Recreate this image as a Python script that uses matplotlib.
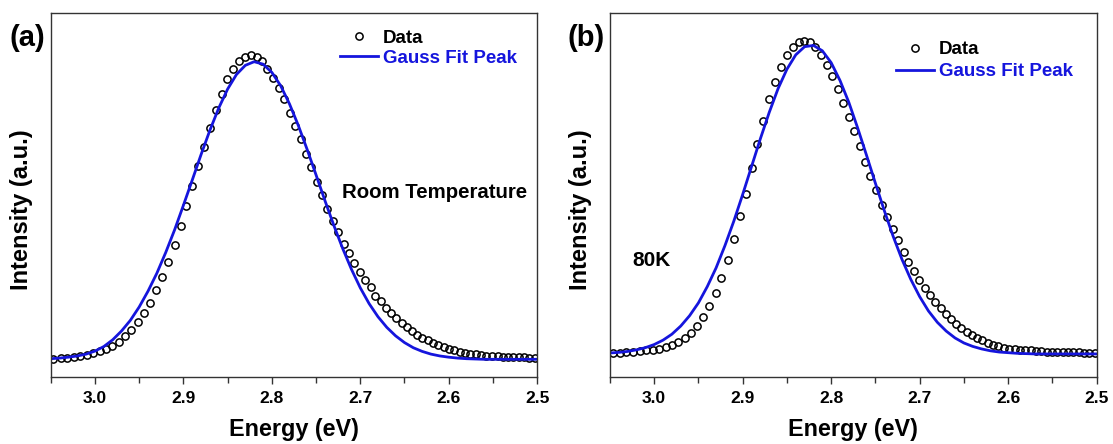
import matplotlib
matplotlib.use("Agg")
import matplotlib.pyplot as plt
from matplotlib.ticker import MultipleLocator

plt.rcParams["font.family"] = ["Liberation Sans", "DejaVu Sans"]
plt.rcParams["font.weight"] = "bold"

# (a) room temperature, measured points
energy_a = [3.0476, 3.0387, 3.0315, 3.0234, 3.0165, 3.0093, 3.0020, 2.9948, 2.9875, 2.9802,
            2.9730, 2.9661, 2.9588, 2.9516, 2.9447, 2.9374, 2.9310, 2.9237, 2.9169, 2.9096,
            2.9031, 2.8971, 2.8902, 2.8834, 2.8765, 2.8696, 2.8632, 2.8567, 2.8503, 2.8434,
            2.8369, 2.8305, 2.8236, 2.8172, 2.8107, 2.8055, 2.7986, 2.7921, 2.7861, 2.7800,
            2.7736, 2.7671, 2.7615, 2.7554, 2.7494, 2.7433, 2.7373, 2.7312, 2.7252, 2.7187,
            2.7126, 2.7066, 2.7005, 2.6949, 2.6884, 2.6828, 2.6767, 2.6711, 2.6654, 2.6594,
            2.6533, 2.6477, 2.6420, 2.6360, 2.6299, 2.6239, 2.6178, 2.6117, 2.6057, 2.5996,
            2.5936, 2.5875, 2.5815, 2.5754, 2.5694, 2.5633, 2.5573, 2.5508, 2.5447, 2.5391,
            2.5330, 2.5270, 2.5209, 2.5149, 2.5088, 2.5028]
intensity_a = [0.002, 0.004, 0.005, 0.009, 0.012, 0.015, 0.021, 0.027, 0.035, 0.045,
               0.058, 0.076, 0.095, 0.122, 0.152, 0.185, 0.227, 0.271, 0.320, 0.377,
               0.439, 0.504, 0.571, 0.635, 0.698, 0.761, 0.819, 0.871, 0.920, 0.954,
               0.981, 0.995, 1.000, 0.992, 0.979, 0.954, 0.925, 0.890, 0.854, 0.811,
               0.768, 0.725, 0.675, 0.633, 0.583, 0.539, 0.493, 0.455, 0.417, 0.380,
               0.348, 0.315, 0.286, 0.260, 0.236, 0.209, 0.190, 0.170, 0.152, 0.136,
               0.120, 0.106, 0.093, 0.081, 0.071, 0.063, 0.054, 0.046, 0.039, 0.034,
               0.030, 0.025, 0.022, 0.019, 0.016, 0.014, 0.012, 0.011, 0.010, 0.009,
               0.008, 0.008, 0.007, 0.007, 0.005, 0.005]

# (b) 80 K, measured points
energy_b = [3.0464, 3.0387, 3.0315, 3.0238, 3.0165, 3.0089, 3.0016, 2.9944, 2.9871, 2.9798,
            2.9730, 2.9657, 2.9584, 2.9516, 2.9447, 2.9379, 2.9306, 2.9241, 2.9169, 2.9100,
            2.9035, 2.8967, 2.8898, 2.8834, 2.8765, 2.8700, 2.8632, 2.8567, 2.8499, 2.8430,
            2.8369, 2.8305, 2.8240, 2.8180, 2.8115, 2.8047, 2.7986, 2.7926, 2.7861, 2.7800,
            2.7740, 2.7679, 2.7615, 2.7558, 2.7490, 2.7429, 2.7369, 2.7304, 2.7244, 2.7179,
            2.7127, 2.7066, 2.7006, 2.6945, 2.6885, 2.6828, 2.6763, 2.6707, 2.6650, 2.6590,
            2.6529, 2.6469, 2.6408, 2.6352, 2.6291, 2.6231, 2.6170, 2.6110, 2.6049, 2.5989,
            2.5928, 2.5868, 2.5807, 2.5747, 2.5686, 2.5626, 2.5565, 2.5504, 2.5444, 2.5383,
            2.5323, 2.5262, 2.5202, 2.5141, 2.5081, 2.5020]
intensity_b = [0.003, 0.004, 0.005, 0.007, 0.010, 0.012, 0.014, 0.017, 0.022, 0.030,
               0.039, 0.052, 0.068, 0.089, 0.118, 0.152, 0.193, 0.244, 0.299, 0.367,
               0.440, 0.512, 0.594, 0.670, 0.744, 0.813, 0.869, 0.915, 0.954, 0.981,
               0.996, 1.000, 0.995, 0.980, 0.953, 0.924, 0.887, 0.845, 0.800, 0.757,
               0.711, 0.663, 0.613, 0.569, 0.523, 0.477, 0.438, 0.399, 0.363, 0.325,
               0.293, 0.264, 0.237, 0.212, 0.187, 0.165, 0.147, 0.129, 0.113, 0.097,
               0.083, 0.071, 0.061, 0.052, 0.044, 0.036, 0.030, 0.024, 0.020, 0.017,
               0.015, 0.013, 0.012, 0.011, 0.010, 0.009, 0.007, 0.007, 0.006, 0.006,
               0.005, 0.005, 0.005, 0.004, 0.004, 0.004]

# Gauss fit curves, read every 0.01 eV
fit_energy = [3.05, 3.04, 3.03, 3.02, 3.01, 3.00, 2.99, 2.98, 2.97, 2.96,
              2.95, 2.94, 2.93, 2.92, 2.91, 2.90, 2.89, 2.88, 2.87, 2.86,
              2.85, 2.84, 2.83, 2.82, 2.81, 2.80, 2.79, 2.78, 2.77, 2.76,
              2.75, 2.74, 2.73, 2.72, 2.71, 2.70, 2.69, 2.68, 2.67, 2.66,
              2.65, 2.64, 2.63, 2.62, 2.61, 2.60, 2.59, 2.58, 2.57, 2.56,
              2.55, 2.54, 2.53, 2.52, 2.51, 2.50]
fit_a = [0.002, 0.004, 0.007, 0.011, 0.017, 0.027, 0.042, 0.064, 0.093, 0.128,
         0.172, 0.224, 0.283, 0.351, 0.425, 0.506, 0.589, 0.673, 0.753, 0.826,
         0.888, 0.936, 0.966, 0.978, 0.970, 0.943, 0.899, 0.839, 0.768, 0.689,
         0.606, 0.522, 0.441, 0.365, 0.296, 0.235, 0.183, 0.140, 0.105, 0.077,
         0.055, 0.038, 0.026, 0.017, 0.011, 0.007, 0.004, 0.002, 0.001, 0.0,
         0.0, 0.0, 0.0, 0.0, 0.0, 0.0]
fit_b = [0.003, 0.005, 0.008, 0.013, 0.020, 0.030, 0.044, 0.063, 0.089, 0.122,
         0.163, 0.215, 0.275, 0.346, 0.424, 0.509, 0.598, 0.687, 0.771, 0.847,
         0.909, 0.955, 0.981, 0.985, 0.968, 0.930, 0.873, 0.803, 0.721, 0.634,
         0.545, 0.458, 0.376, 0.302, 0.238, 0.183, 0.137, 0.101, 0.073, 0.051,
         0.035, 0.024, 0.016, 0.010, 0.006, 0.004, 0.002, 0.001, 0.0, 0.0,
         0.0, 0.0, 0.0, 0.0, 0.0, 0.0]

blue = "#1515dd"
fig = plt.figure(figsize=(11.13, 4.44), dpi=100)
ax_a = fig.add_axes([0.0456, 0.151, 0.437, 0.819])
ax_b = fig.add_axes([0.548, 0.151, 0.4373, 0.819])

panels = [
    (ax_a, energy_a, intensity_a, fit_a, (-0.058, 1.137), "(a)", (0.595, 0.955), 0.16),
    (ax_b, energy_b, intensity_b, fit_b, (-0.0735, 1.0875), "(b)", (0.588, 0.9235), 0.25),
]
for ax, e, inten, fit, ylim, tag, leg_pos, lsp in panels:
    ax.plot(e, inten, "o", mfc="none", mec="black", ms=5.2, mew=1.1, label="Data")
    ax.plot(fit_energy, fit, "-", color=blue, lw=2.0, label="Gauss Fit Peak")
    ax.set_xlim(3.05, 2.5)
    ax.set_ylim(*ylim)
    ax.xaxis.set_major_locator(MultipleLocator(0.1))
    ax.xaxis.set_minor_locator(MultipleLocator(0.05))
    ax.set_yticks([])
    ax.tick_params(axis="x", which="major", length=5, width=1, labelsize=12.5, pad=5, color="#333333")
    ax.tick_params(axis="x", which="minor", length=4, width=1, color="#333333")
    for s in ax.spines.values():
        s.set_color("#333333")
        s.set_linewidth(1.0)
    ax.set_xlabel("Energy (eV)", fontsize=16.8, fontweight="bold", labelpad=9)
    ax.set_ylabel("Intensity (a.u.)", fontsize=17, fontweight="bold")
    ax.yaxis.set_label_coords(-0.036, 0.46)
    ax.text(-0.049, 0.932, tag, transform=ax.transAxes, fontsize=21, fontweight="bold",
            ha="center", va="center")
    leg = ax.legend(loc="upper left", bbox_to_anchor=leg_pos, frameon=False,
                    fontsize=13.5, handlelength=2.0, handletextpad=0.27,
                    borderpad=0, borderaxespad=0, labelspacing=lsp)
    leg.get_texts()[1].set_color(blue)

ax_a.text(0.598, 0.507, "Room Temperature", transform=ax_a.transAxes, fontsize=14.7,
          fontweight="bold", va="center")
ax_b.text(0.046, 0.321, "80K", transform=ax_b.transAxes, fontsize=15,
          fontweight="bold", va="center")

fig.savefig("out.png", dpi=100)
